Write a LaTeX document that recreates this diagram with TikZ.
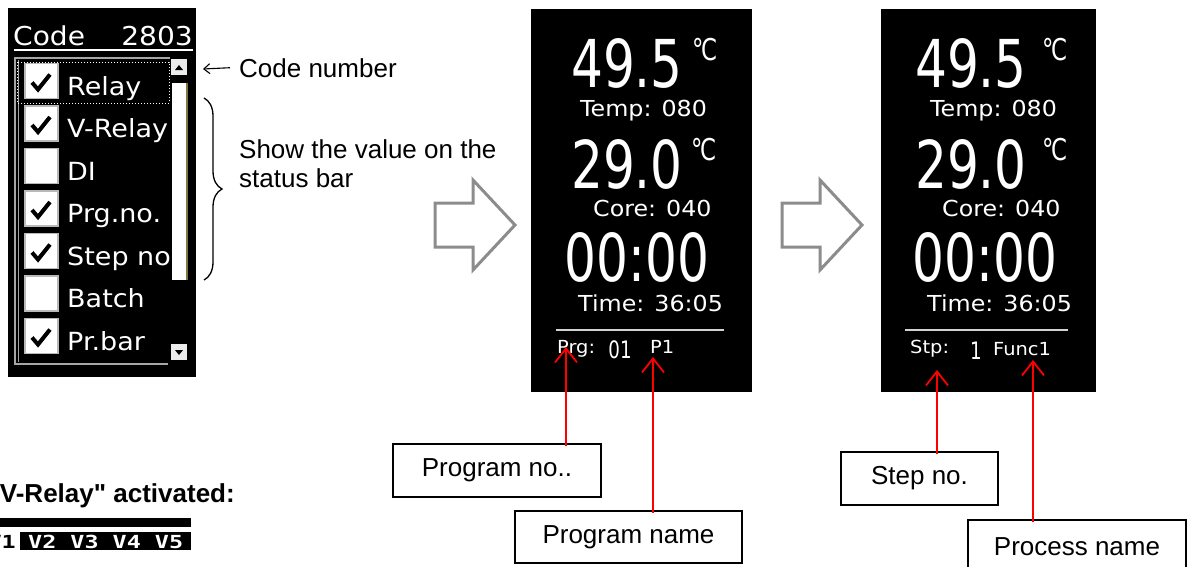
\documentclass[tikz,border=0pt]{standalone}
\usepackage{fontspec}
\setmainfont{Liberation Sans}
\newfontfamily\arialraw[Ligatures=TeXOff]{Liberation Sans}
\newfontfamily\lcd[FakeStretch=1.08]{DejaVu Sans}
\newfontfamily\lcdbig[FakeStretch=0.76]{DejaVu Sans}
\newfontfamily\lcdmono[FakeStretch=1.3]{DejaVu Sans Mono}
\usetikzlibrary{arrows.meta,decorations.pathreplacing}
\definecolor{arrgray}{RGB}{140,140,140}
\definecolor{olivebar}{RGB}{128,118,60}
\begin{document}
\begin{tikzpicture}[x=1pt,y=-1pt,
  lbl/.style={draw=black,line width=1.3pt,fill=white,font=\fontsize{26}{30}\selectfont,inner sep=0pt},
  redline/.style={draw=red,line width=1.8pt,-{Straight Barb[length=14pt,width=22pt]}},
  hollow/.style={draw=arrgray,line width=3pt,line join=miter},
  big/.style={text=white,inner sep=0pt,font=\fontsize{66}{68}\lcdbig},
  mid/.style={text=white,inner sep=0pt,font=\fontsize{24}{26}\lcdbig},
  deg/.style={text=white,inner sep=0pt,anchor=north west,font=\fontsize{30}{32}\lcdbig},
  sm/.style={text=white,inner sep=0pt,anchor=base west,font=\fontsize{22}{24}\lcd},
  st/.style={text=white,inner sep=0pt,anchor=base west,font=\fontsize{18}{20}\lcd},
  item/.style={text=white,inner sep=0pt,anchor=base west,font=\fontsize{25}{28}\lcd},
  cbox/.style={fill=white,draw=gray!55,line width=1.5pt,minimum width=33pt,minimum height=35pt,inner sep=0pt},
  plain/.style={inner sep=0pt,font=\fontsize{26}{30}\selectfont}
]
\useasboundingbox (0,0) rectangle (1187,566);
\fill[white] (0,0) rectangle (1187,566);
\clip (0,0) rectangle (1187,566);

% ---------- left settings panel ----------
\fill[black] (8,8) rectangle (196,377);
\node[item,font=\fontsize{26}{28}\lcd] (code) at (13,45) {Code};
\node[item,anchor=base east,font=\fontsize{26}{28}\lcd] (codenum) at (193,45) {2803};
\draw[white,line width=2pt] (14,50) -- (193,50);
% list frame
\draw[gray!70,line width=1.5pt] (170,58) -- (15,58) -- (15,364) -- (168,364);
\draw[gray!70,line width=1pt] (18,60) -- (18,362);
% scrollbar
\fill[white] (172,83) rectangle (186,280);
\draw[olivebar,line width=1.2pt] (187,83) -- (187,280);
\fill[gray!15] (171,59) rectangle (187,75);
\fill[black] (175,70) -- (183,70) -- (179,65) -- cycle;
\fill[gray!15] (171,344) rectangle (187,360);
\fill[black] (175,350) -- (183,350) -- (179,355) -- cycle;
% items
\foreach \i/\t/\c in {0/Relay/1,1/V-Relay/1,2/DI/0,3/Prg.no./1,4/Step no/1,5/Batch/0,6/Pr.bar/1}{
  \pgfmathsetmacro\yy{63+42.5*\i}
  \node[cbox] (cb\i) at (41.5,\yy+18) {};
  \ifnum\c=1
    \draw[black,line width=4pt,line join=miter] ([shift={(-9.5,1.5)}]cb\i.center) -- ([shift={(-3.5,8.5)}]cb\i.center) -- ([shift={(8.5,-6.5)}]cb\i.center);
  \fi
  \node[item] (it\i) at (67,\yy+32) {\t};
}
\draw[white,dotted,line width=1pt] (17,62) rectangle (169,103);

% ---------- annotations ----------
\node[plain,anchor=base west] (cn) at (239,77) {Code number};
\coordinate (cntip) at (203,69);
\draw[line width=1.1pt,-{Straight Barb[length=6pt,width=10pt]}] ([xshift=-9pt]cn.west) -- (cntip);
\draw[decorate,decoration={brace,amplitude=18pt},line width=1.3pt] (204,98) -- (204,280);
\node[plain,anchor=base west] (sv1) at (239,158) {Show the value on the};
\node[plain,anchor=base west] (sv2) at (239,187) {status bar};

% hollow arrows
\draw[hollow] (435,203) -- (473,203) -- (473,180) -- (515,225) -- (473,270) -- (473,247) -- (435,247) -- cycle;
\draw[hollow] (782,203) -- (820,203) -- (820,180) -- (862,225) -- (820,270) -- (820,247) -- (782,247) -- cycle;

% ---------- middle screen ----------
\fill[black] (531,9) rectangle (752,392);
\node[big] (a1) at (627,63) {49.5};
\node[deg] (a2) at (692,38) {°\kern-2ptC};
\node[sm] (a3) at (580,116) {Temp: 080};
\node[big] (a4) at (627,164) {29.0};
\node[deg] (a5) at (691,138) {°\kern-2ptC};
\node[sm] (a6) at (593,216) {Core: 040};
\node[big] (a7) at (637,257) {00:00};
\node[sm] (a8) at (578,311) {Time: 36:05};
\draw[gray!35,line width=1.5pt] (556,330) -- (724,330);
\node[st] (a9) at (557,353) {Prg:};
\node[mid] (a10) at (620,350) {01};
\node[st] (a11) at (650,353) {P1};

% ---------- right screen ----------
\fill[black] (881,9) rectangle (1096,392);
\node[big] (b1) at (971,63) {49.5};
\node[deg] (b2) at (1042,38) {°\kern-2ptC};
\node[sm] (b3) at (930,116) {Temp: 080};
\node[big] (b4) at (971,164) {29.0};
\node[deg] (b5) at (1042,138) {°\kern-2ptC};
\node[sm] (b6) at (942,216) {Core: 040};
\node[big] (b7) at (985,257) {00:00};
\node[sm] (b8) at (927,311) {Time: 36:05};
\draw[gray!35,line width=1.5pt] (905,330) -- (1068,330);
\node[st] (b9) at (910,353) {Stp:};
\node[mid] (b10) at (976,351) {1};
\node[st] (b11) at (993,355) {Func1};

% ---------- label boxes and red pointers ----------
\node[lbl,minimum width=208pt,minimum height=53pt] (pno) at (497,470.5) {Program no..};
\node[lbl,minimum width=227pt,minimum height=52pt] (pname) at (628.5,537) {Program name};
\node[lbl,minimum width=157pt,minimum height=53pt] (sno) at (919.5,478.5) {Step no.};
\node[lbl,minimum width=218pt,minimum height=53pt] (prname) at (1077,546.5) {Process name};
\coordinate (tA) at (566,347);
\coordinate (tB) at (653,357);
\coordinate (tC) at (937,370);
\coordinate (tD) at (1033,360);
\draw[redline] ([yshift=-3pt]pno.north -| tA) -- (tA);
\draw[redline] ([yshift=-3pt]pname.north -| tB) -- (tB);
\draw[redline] ([yshift=-3pt]sno.north -| tC) -- (tC);
\draw[redline] ([yshift=-3pt]prname.north -| tD) -- (tD);

% ---------- bottom left ----------
\node[plain,anchor=base west,font=\fontsize{26}{30}\arialraw\bfseries] (act) at (-12.6,502) {"V-Relay" activated:};
\fill[black] (0,518) rectangle (191,527);
\node[inner sep=0pt,anchor=base east,font=\fontsize{18}{20}\lcdmono\bfseries] (v1) at (16,548) {V1};
\fill[black] (20,532) rectangle (191,550);
\node[inner sep=0pt,anchor=base west,text=white,font=\fontsize{18}{20}\lcdmono\bfseries] (vv) at (28,548) {V2 V3 V4 V5};
\end{tikzpicture}
\end{document}
